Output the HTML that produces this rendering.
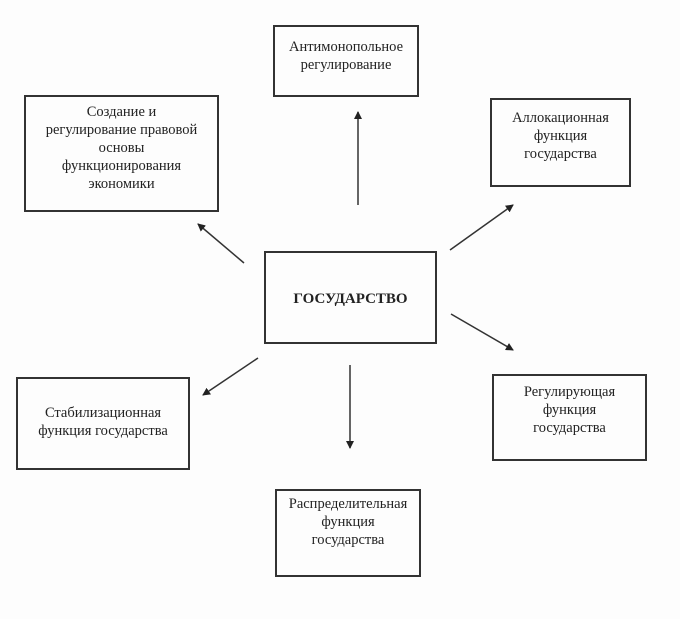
<!DOCTYPE html>
<html><head><meta charset="utf-8"><style>
body{margin:0;background:#fdfdfd;}
.b{position:absolute;border:2px solid #333;box-sizing:border-box;font-family:"Liberation Serif",serif;font-size:14.5px;line-height:18px;text-align:center;color:#222;}
</style></head><body>
<div style="position:relative;width:680px;height:619px;overflow:hidden">
<div class="b" style="left:273px;top:25px;width:146px;height:72px;padding-top:11px">Антимонопольное<br>регулирование</div>
<div class="b" style="left:24px;top:95px;width:195px;height:117px;padding-top:6px">Создание и<br>регулирование правовой<br>основы<br>функционирования<br>экономики</div>
<div class="b" style="left:490px;top:98px;width:141px;height:89px;padding-top:9px">Аллокационная<br>функция<br>государства</div>
<div class="b" style="left:264px;top:251px;width:173px;height:93px;padding-top:37px;font-weight:bold;font-size:15px">ГОСУДАРСТВО</div>
<div class="b" style="left:16px;top:377px;width:174px;height:93px;padding-top:25px">Стабилизационная<br>функция государства</div>
<div class="b" style="left:492px;top:374px;width:155px;height:87px;padding-top:7px">Регулирующая<br>функция<br>государства</div>
<div class="b" style="left:275px;top:489px;width:146px;height:88px;padding-top:4px">Распределительная<br>функция<br>государства</div>
<svg width="680" height="619" style="position:absolute;left:0;top:0">
<defs><marker id="a" markerWidth="8" markerHeight="8" refX="7" refY="4" orient="auto" markerUnits="userSpaceOnUse"><path d="M0,0 L8,4 L0,8 z" fill="#222"/></marker></defs>
<g stroke="#333" stroke-width="1.5" marker-end="url(#a)">
<line x1="358" y1="205" x2="358" y2="112"/>
<line x1="244" y1="263" x2="198" y2="224"/>
<line x1="450" y1="250" x2="513" y2="205"/>
<line x1="451" y1="314" x2="513" y2="350"/>
<line x1="258" y1="358" x2="203" y2="395"/>
<line x1="350" y1="365" x2="350" y2="448"/>
</g></svg>
</div></body></html>
